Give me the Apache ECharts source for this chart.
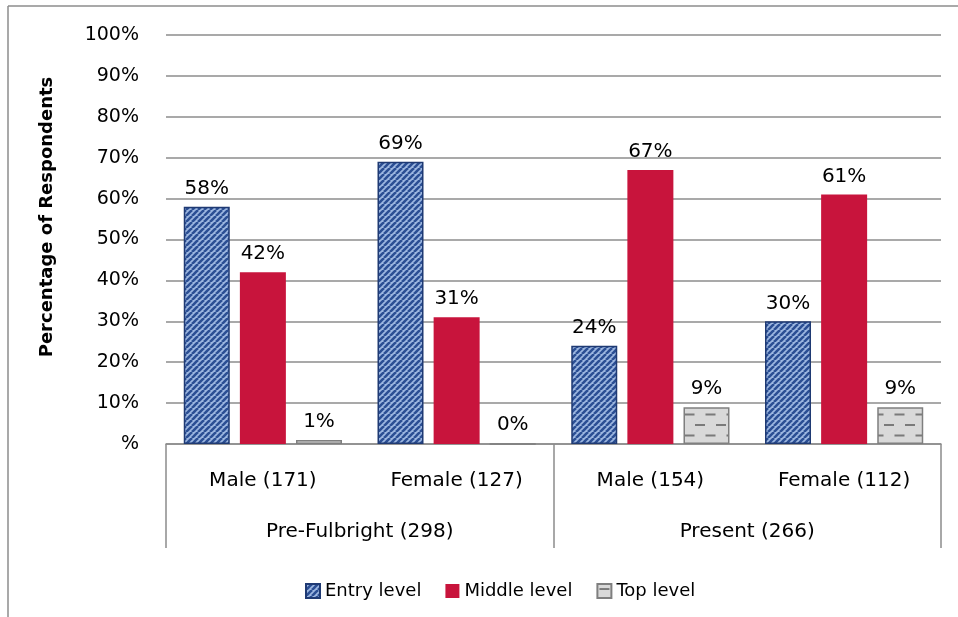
<!DOCTYPE html>
<html>
<head>
<meta charset="utf-8">
<script src="https://cdn.jsdelivr.net/npm/echarts@6/dist/echarts.min.js"></script>
<style>
  html, body { margin: 0; padding: 0; background: #fff; }
  #chart { width: 958px; height: 617px; }
</style>
</head>
<body>
<div id="chart"></div>
<script>
// Respondent groups and job levels
const categories = ['Male (171)', 'Female (127)', 'Male (154)', 'Female (112)'];
const groups = ['Pre-Fulbright (298)', 'Present (266)'];
const seriesNames = ['Entry level', 'Middle level', 'Top level'];

// Percentage of respondents per level
const entryLevel = [58, 69, 24, 30];
const middleLevel = [42, 31, 67, 61];
const topLevel = [1, 0, 9, 9];

const yTicks = [0, 10, 20, 30, 40, 50, 60, 70, 80, 90, 100];

const FONT = '"DejaVu Sans", "Open Sans", sans-serif';

// Diagonal stripe fill for the entry-level bars
function stripeTile() {
  const n = 6;
  const c = document.createElement('canvas');
  c.width = n; c.height = n;
  const ctx = c.getContext('2d');
  ctx.fillStyle = '#9DB7E0';
  ctx.fillRect(0, 0, n, n);
  ctx.strokeStyle = '#2B4F94';
  ctx.lineWidth = 2.6;
  for (let k = -n; k <= n; k += n) {
    ctx.beginPath();
    ctx.moveTo(k, n);
    ctx.lineTo(k + n, 0);
    ctx.stroke();
  }
  return c;
}

// Dashed-brick fill for the top-level bars
function dashTile() {
  const w = 21, h = 21;
  const c = document.createElement('canvas');
  c.width = w; c.height = h;
  const ctx = c.getContext('2d');
  ctx.fillStyle = '#D9D9D9';
  ctx.fillRect(0, 0, w, h);
  ctx.fillStyle = '#7A7A7A';
  ctx.fillRect(2, 4, 10, 2);
  ctx.fillRect(12.5, 14.5, 9, 2);
  ctx.fillRect(0, 14.5, 1.5, 2);
  return c;
}

const chart = echarts.init(document.getElementById('chart'), null, { renderer: 'canvas' });

const labelStyle = {
  show: true,
  position: 'top',
  distance: 8,
  fontFamily: FONT,
  fontSize: 20,
  color: '#000',
  formatter: p => p.value + '%'
};

chart.setOption({
  animation: false,
  textStyle: { fontFamily: FONT },
  grid: { left: 166, right: 17, top: 35, bottom: 173 },
  legend: {
    top: 577,
    left: 300,
    itemWidth: 14,
    itemHeight: 14,
    itemGap: 24,
    icon: 'rect',
    textStyle: { fontFamily: FONT, fontSize: 18, color: '#000' },
    data: seriesNames
  },
  xAxis: [
    {
      type: 'category',
      data: categories,
      position: 'bottom',
      axisLine: { show: true, lineStyle: { color: '#8C8C8C', width: 1.5 } },
      axisTick: { show: false },
      axisLabel: { margin: 27, fontSize: 20, color: '#000', fontFamily: FONT, interval: 0 }
    },
    {
      type: 'category',
      data: groups,
      position: 'bottom',
      axisLine: { show: false },
      axisTick: { show: true, length: 104, lineStyle: { color: '#8C8C8C', width: 1.5 } },
      axisLabel: { margin: 78, fontSize: 20, color: '#000', fontFamily: FONT, interval: 0 },
      splitLine: { show: false }
    }
  ],
  yAxis: {
    type: 'value',
    min: yTicks[0],
    max: yTicks[yTicks.length - 1],
    interval: 10,
    axisLine: { show: false },
    axisTick: { show: false },
    axisLabel: {
      margin: 27,
      fontSize: 19,
      color: '#000',
      fontFamily: FONT,
      formatter: v => (v === 0 ? '%' : v + '%')
    },
    splitLine: { lineStyle: { color: '#8C8C8C', width: 1.5 } }
  },
  series: [
    {
      name: seriesNames[0],
      type: 'bar',
      data: entryLevel,
      barWidth: 46,
      barGap: '22%',
      itemStyle: {
        color: { image: stripeTile(), repeat: 'repeat' },
        borderColor: '#1F3A73',
        borderWidth: 1.5
      },
      label: labelStyle
    },
    {
      name: seriesNames[1],
      type: 'bar',
      data: middleLevel,
      barWidth: 46,
      barGap: '22%',
      itemStyle: { color: '#C8143C' },
      label: labelStyle
    },
    {
      name: seriesNames[2],
      type: 'bar',
      data: topLevel,
      barWidth: 46,
      barGap: '22%',
      itemStyle: {
        color: { image: dashTile(), repeat: 'repeat' },
        borderColor: '#7F7F7F',
        borderWidth: 1.5
      },
      label: labelStyle
    }
  ],
  graphic: [
    {
      type: 'text',
      x: 47,
      y: 217,
      rotation: Math.PI / 2,
      style: {
        text: 'Percentage of Respondents',
        fontFamily: FONT,
        fontSize: 18,
        fontWeight: 'bold',
        fill: '#000',
        align: 'center',
        verticalAlign: 'middle'
      }
    },
    {
      type: 'line',
      shape: { x1: 8, y1: 6, x2: 958, y2: 6 },
      style: { stroke: '#8C8C8C', lineWidth: 1.5 }
    },
    {
      type: 'line',
      shape: { x1: 8, y1: 6, x2: 8, y2: 617 },
      style: { stroke: '#8C8C8C', lineWidth: 1.5 }
    }
  ]
});
</script>
</body>
</html>
